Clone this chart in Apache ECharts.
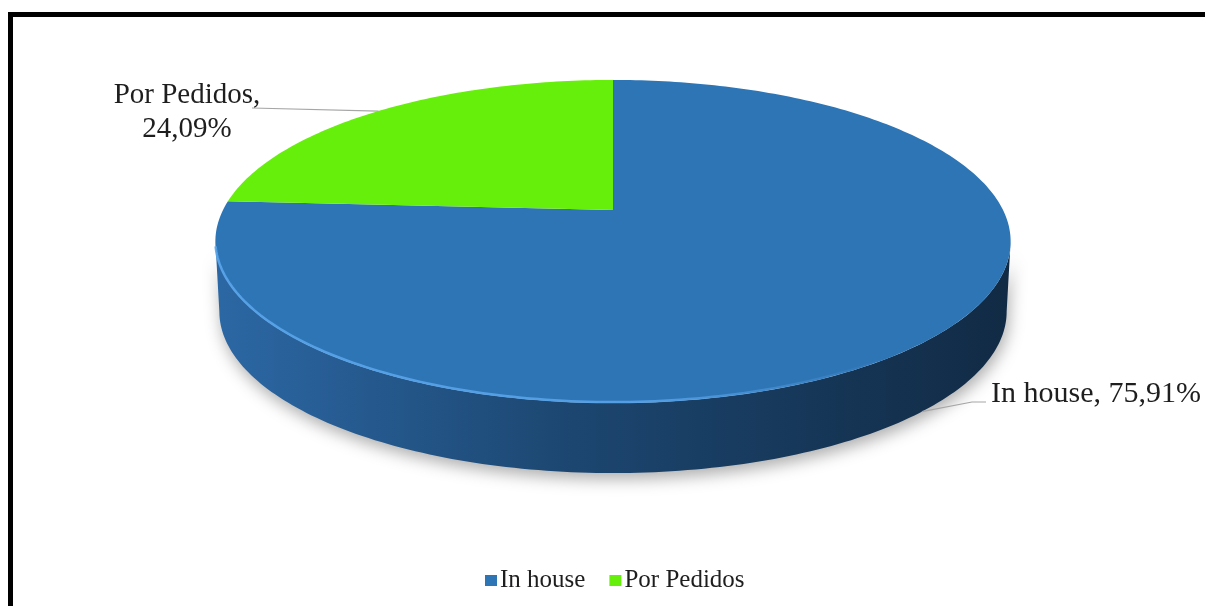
<!DOCTYPE html>
<html>
<head>
<meta charset="utf-8">
<script src="https://cdn.jsdelivr.net/npm/echarts@6/dist/echarts.min.js"></script>
<style>
html,body{margin:0;padding:0;background:#fff;}
#c{width:1205px;height:606px;}
</style>
</head>
<body>
<div id="c"></div>
<script>
// ---- data ----
const categories = ['In house', 'Por Pedidos'];
const values = [75.91, 24.09];
const colors = ['#2E75B6', '#66EF0A'];

// ---- layout / style (not data) ----
const PIE = { cx: 613, cy: 210, P: 390, Q: 155.4, K: -0.195, depth: 70, bottomScale: 0.99 };
const SIDE_GRADIENT = [
  { offset: 0, color: '#2C68A5' },
  { offset: 0.45, color: '#1C4670' },
  { offset: 1, color: '#112A44' }
];
const LABEL_LAYOUT = [
  { x: 991, y: 394, align: 'left', wrap: false, size: 30, path: [[972, 402], [986, 402]] },
  { x: 187, y: 112, align: 'center', wrap: true, size: 29, path: [[252, 108]] }
];
const FONT = 'Liberation Serif, Times New Roman, serif';

function proj(alphaDeg, dy, sc) {
  const r = alphaDeg * Math.PI / 180;
  const u = Math.sin(r), v = -Math.cos(r);
  const d = 1 + PIE.K * v;
  return [PIE.cx + PIE.P * sc * u / d, PIE.cy + PIE.Q * v / d + dy];
}
function arc(a0, a1, dy, sc) {
  const pts = [];
  const n = Math.max(2, Math.ceil(Math.abs(a1 - a0)));
  for (let i = 0; i <= n; i++) pts.push(proj(a0 + (a1 - a0) * i / n, dy, sc));
  return pts;
}
const total = values.reduce((a, b) => a + b, 0);
const visLo = Math.acos(PIE.K) * 180 / Math.PI; // silhouette: -cos(a) = -K
const visHi = 360 - visLo;

function fmt(v) { return v.toFixed(2).replace('.', ',') + '%'; }

function makeRender(idx) {
  return function (params, api) {
    const val = api.value(0);
    let before = 0;
    for (let i = 0; i < idx; i++) before += values[i];
    const start = before / total * 360;
    const end = start + val / total * 360;
    const children = [];
    const s0 = Math.max(start, visLo), s1 = Math.min(end, visHi);
    if (s1 > s0) {
      const topArc = arc(s0, s1, 0, 1);
      const botArc = arc(s1, s0, PIE.depth, PIE.bottomScale);
      children.push({
        type: 'polygon', z2: 1,
        shape: { points: topArc.concat(botArc) },
        style: {
          fill: { type: 'linear', x: PIE.cx - PIE.P * 1.03, y: 0, x2: PIE.cx + PIE.P * 1.03, y2: 0, global: true, colorStops: SIDE_GRADIENT },
          shadowBlur: 16, shadowColor: 'rgba(0,0,0,0.32)', shadowOffsetX: 2, shadowOffsetY: 6
        }
      });
    }
    const topPts = [[PIE.cx, PIE.cy]].concat(arc(start, end, 0, 1));
    children.push({
      type: 'polygon', z2: 2,
      shape: { points: topPts },
      style: { fill: colors[idx] }
    });
    if (s1 > s0) {
      children.push({
        type: 'polyline', z2: 3,
        shape: { points: arc(s0 + 2, s1 - 2, -1, 1) },
        style: {
          fill: null, lineWidth: 2.5,
          stroke: { type: 'linear', x: PIE.cx - PIE.P, y: 0, x2: PIE.cx + PIE.P, y2: 0, global: true,
            colorStops: [{ offset: 0, color: 'rgba(90,165,235,0.9)' }, { offset: 0.55, color: 'rgba(90,165,235,0.85)' }, { offset: 0.85, color: 'rgba(90,165,235,0)' }, { offset: 1, color: 'rgba(90,165,235,0)' }] }
        }
      });
    }
    const mid = (start + end) / 2;
    const vmid = -Math.cos(mid * Math.PI / 180);
    const anchor = vmid > 0 ? proj(mid, PIE.depth, PIE.bottomScale) : proj(mid, 0, 1);
    const L = LABEL_LAYOUT[idx];
    children.push({
      type: 'polyline', z2: 5,
      shape: { points: [anchor].concat(L.path) },
      style: { fill: null, stroke: '#A6A6A6', lineWidth: 1.2 }
    });
    const txt = categories[idx] + ',' + (L.wrap ? '\n' : ' ') + fmt(val);
    children.push({
      type: 'text', z2: 6,
      x: L.x, y: L.y,
      style: {
        text: txt, fill: '#1E1E1E', font: L.size + 'px ' + FONT,
        align: L.align, verticalAlign: 'middle', lineHeight: 34
      }
    });
    return { type: 'group', children: children };
  };
}

const chart = echarts.init(document.getElementById('c'), null, { renderer: 'canvas' });
chart.setOption({
  animation: false,
  backgroundColor: '#fff',
  legend: {
    data: categories,
    left: 480, top: 563,
    icon: 'rect', itemWidth: 12, itemHeight: 11, itemGap: 24,
    textStyle: { fontFamily: FONT, fontSize: 25, color: '#1E1E1E', padding: [0, 0, 0, -2] }
  },
  graphic: [{
    type: 'rect', silent: true, z: -1,
    shape: { x: 10.5, y: 14.5, width: 1400, height: 800 },
    style: { fill: null, stroke: '#000', lineWidth: 5 }
  }],
  series: categories.map((name, i) => ({
    type: 'custom', name: name, coordinateSystem: 'none',
    itemStyle: { color: colors[i] },
    data: [[values[i]]],
    renderItem: makeRender(i)
  }))
});
</script>
</body>
</html>
